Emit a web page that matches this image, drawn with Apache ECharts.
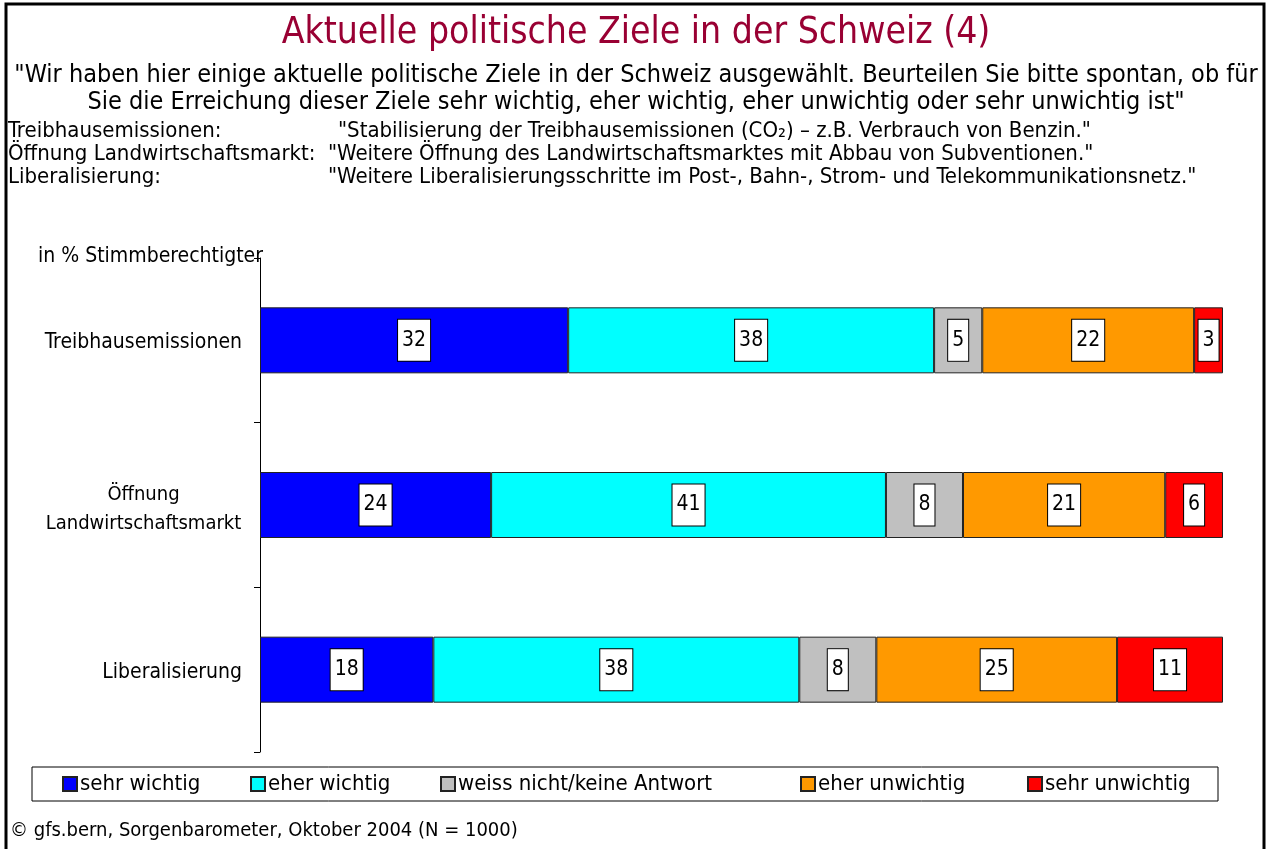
<!DOCTYPE html>
<html>
<head>
<meta charset="utf-8">
<title>Aktuelle politische Ziele in der Schweiz (4)</title>
<script src="https://cdn.jsdelivr.net/npm/echarts@6/dist/echarts.min.js"></script>
<style>
  html, body { margin: 0; padding: 0; background: #fff; }
  #chart { width: 1271px; height: 849px; }
</style>
</head>
<body>
<div id="chart"></div>
<script>
  // Kategorien (von oben nach unten)
  const categories = ['Treibhausemissionen', 'Öffnung\nLandwirtschaftsmarkt', 'Liberalisierung'];
  const seriesNames = ['sehr wichtig', 'eher wichtig', 'weiss nicht/keine Antwort', 'eher unwichtig', 'sehr unwichtig'];
  const sehrWichtig = [32, 24, 18];
  const eherWichtig = [38, 41, 38];
  const weissNicht = [5, 8, 8];
  const eherUnwichtig = [22, 21, 25];
  const sehrUnwichtig = [3, 6, 11];

  const values = [sehrWichtig, eherWichtig, weissNicht, eherUnwichtig, sehrUnwichtig];
  const colors = ['#0000FF', '#00FFFF', '#C0C0C0', '#FF9900', '#FF0000'];
  const legendLeft = [62, 250, 440, 800, 1027];

  const font = '"DejaVu Sans Condensed", "Liberation Sans", Arial, sans-serif';

  const series = seriesNames.map(function (name, i) {
    return {
      name: name,
      type: 'bar',
      stack: 'total',
      barWidth: 66,
      data: values[i],
      itemStyle: {color: colors[i], borderColor: '#222', borderWidth: 1},
      label: {
        show: true,
        position: 'inside',
        formatter: '{c}',
        color: '#000',
        fontSize: 21,
        lineHeight: 23,
        fontFamily: font,
        backgroundColor: '#fff',
        borderColor: '#000',
        borderWidth: 1,
        padding: [11, 4, 7, 4]
      },
      emphasis: {disabled: true}
    };
  });

  const legends = seriesNames.map(function (name, i) {
    return {
      data: [name],
      left: legendLeft[i],
      top: 773,
      icon: 'rect',
      itemWidth: 14,
      itemHeight: 14,
      itemGap: 0,
      padding: 0,
      selectedMode: false,
      textStyle: {fontSize: 22, fontFamily: font, color: '#000', padding: [0, 0, 0, -2]}
    };
  });

  const chart = echarts.init(document.getElementById('chart'));
  chart.setOption({
    animation: false,
    textStyle: {fontFamily: font},
    grid: {left: 260, right: 48, top: 258, bottom: 97, containLabel: false},
    xAxis: {type: 'value', min: 0, max: 100, show: false},
    yAxis: {
      type: 'category',
      inverse: true,
      data: categories,
      axisLine: {show: true, lineStyle: {color: '#000', width: 1}},
      axisTick: {show: true, interval: 0, length: 6, lineStyle: {color: '#000', width: 1}},
      axisLabel: {
        color: '#000',
        fontSize: 21,
        fontFamily: font,
        margin: 18,
        padding: [5, 0, 0, 0],
        formatter: function (v) {
          if (v.indexOf('\n') >= 0) {
            return v.split('\n').map(function (s) { return '{c|' + s + '}'; }).join('\n');
          }
          return v;
        },
        rich: {c: {width: 197, align: 'center', fontSize: 20, lineHeight: 29, color: '#000', padding: [4, 0, 0, 0]}}
      }
    },
    legend: legends,
    series: series,
    graphic: [
      {type: 'rect', shape: {x: 6, y: 4, width: 1258, height: 860}, style: {fill: null, stroke: '#000', lineWidth: 3}, silent: true},
      {type: 'rect', shape: {x: 32, y: 767, width: 1186, height: 34}, style: {fill: null, stroke: '#000', lineWidth: 1}, silent: true},
      {type: 'text', x: 636, y: 33, style: {text: 'Aktuelle politische Ziele in der Schweiz (4)', fill: '#990033', font: '37px ' + font, textAlign: 'center', textVerticalAlign: 'middle'}},
      {type: 'text', x: 636, y: 75, style: {text: '"Wir haben hier einige aktuelle politische Ziele in der Schweiz ausgewählt. Beurteilen Sie bitte spontan, ob für', fill: '#000', font: '25px ' + font, textAlign: 'center', textVerticalAlign: 'middle'}},
      {type: 'text', x: 636, y: 102, style: {text: 'Sie die Erreichung dieser Ziele sehr wichtig, eher wichtig, eher unwichtig oder sehr unwichtig ist"', fill: '#000', font: '25px ' + font, textAlign: 'center', textVerticalAlign: 'middle'}},
      {type: 'text', x: 8, y: 131, style: {text: 'Treibhausemissionen:', fill: '#000', font: '22px ' + font, textVerticalAlign: 'middle'}},
      {type: 'text', x: 338, y: 131, style: {text: '"Stabilisierung der Treibhausemissionen (CO₂) – z.B. Verbrauch von Benzin."', fill: '#000', font: '22px ' + font, textVerticalAlign: 'middle'}},
      {type: 'text', x: 8, y: 154, style: {text: 'Öffnung Landwirtschaftsmarkt:', fill: '#000', font: '22px ' + font, textVerticalAlign: 'middle'}},
      {type: 'text', x: 328, y: 154, style: {text: '"Weitere Öffnung des Landwirtschaftsmarktes mit Abbau von Subventionen."', fill: '#000', font: '22px ' + font, textVerticalAlign: 'middle'}},
      {type: 'text', x: 8, y: 177, style: {text: 'Liberalisierung:', fill: '#000', font: '22px ' + font, textVerticalAlign: 'middle'}},
      {type: 'text', x: 328, y: 177, style: {text: '"Weitere Liberalisierungsschritte im Post-, Bahn-, Strom- und Telekommunikationsnetz."', fill: '#000', font: '22px ' + font, textVerticalAlign: 'middle'}},
      {type: 'text', x: 38, y: 257, style: {text: 'in % Stimmberechtigter', fill: '#000', font: '21px ' + font, textVerticalAlign: 'middle'}},
      {type: 'text', x: 10, y: 831, style: {text: '© gfs.bern, Sorgenbarometer, Oktober 2004 (N = 1000)', fill: '#000', font: '20px ' + font, textVerticalAlign: 'middle'}}
    ]
  });
</script>
</body>
</html>
